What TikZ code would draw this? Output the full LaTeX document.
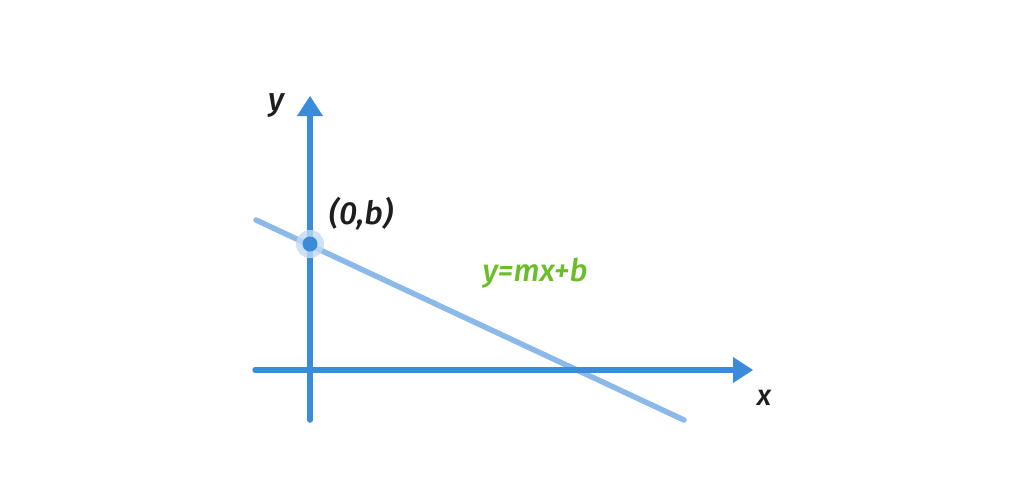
\documentclass[tikz,border=0pt]{standalone}
\usepackage{fontspec}
\setmainfont{Fira Sans}[ItalicFont={Fira Sans Medium Italic}]
\usetikzlibrary{arrows.meta}
\definecolor{axisblue}{HTML}{3B8BDB}
\definecolor{lineblue}{HTML}{8BB9E9}
\definecolor{halo}{HTML}{C3DAF4}
\definecolor{eqgreen}{HTML}{6BBD2A}
\definecolor{ink}{HTML}{1E1E1E}
\begin{document}
\begin{tikzpicture}[x=1pt,y=-1pt,
  axis/.style={draw=axisblue,line width=5.5pt,line cap=round,-{Triangle[length=20pt,width=26pt,line width=0pt,fill=axisblue]}},
  lbl/.style={text=ink,font=\itshape\fontsize{32}{36}\selectfont},
  eq/.style={text=eqgreen,font=\itshape\fontsize{31}{36}\selectfont}]
\useasboundingbox (0,0) rectangle (1024,480);
\coordinate (ybot) at (310,420);
\coordinate (ytop) at (310,96);
\coordinate (xleft) at (255,370);
\coordinate (xright) at (753,370);
\coordinate (lstart) at (256,220);
\coordinate (lend) at (684,420);
\draw[line width=5.5pt,lineblue,line cap=round] (lstart) -- (lend);
\draw[axis] (xleft) -- (xright);
\draw[axis] (ybot) -- (ytop);
\fill[halo,opacity=0.8] (310,244) circle (14pt);
\node[circle,fill=axisblue,inner sep=0pt,minimum size=15pt] (pt) at (310,244) {};
\node[lbl] (ylab) at (276,106) {y};
\node[lbl,font=\itshape\fontsize{29}{34}\selectfont] (xlab) at (764,398) {x};
\node[lbl] (plab) at (361,214) {(0,b)};
\node[eq] (eqlab) at (535,273) {y=mx+b};
\end{tikzpicture}
\end{document}
